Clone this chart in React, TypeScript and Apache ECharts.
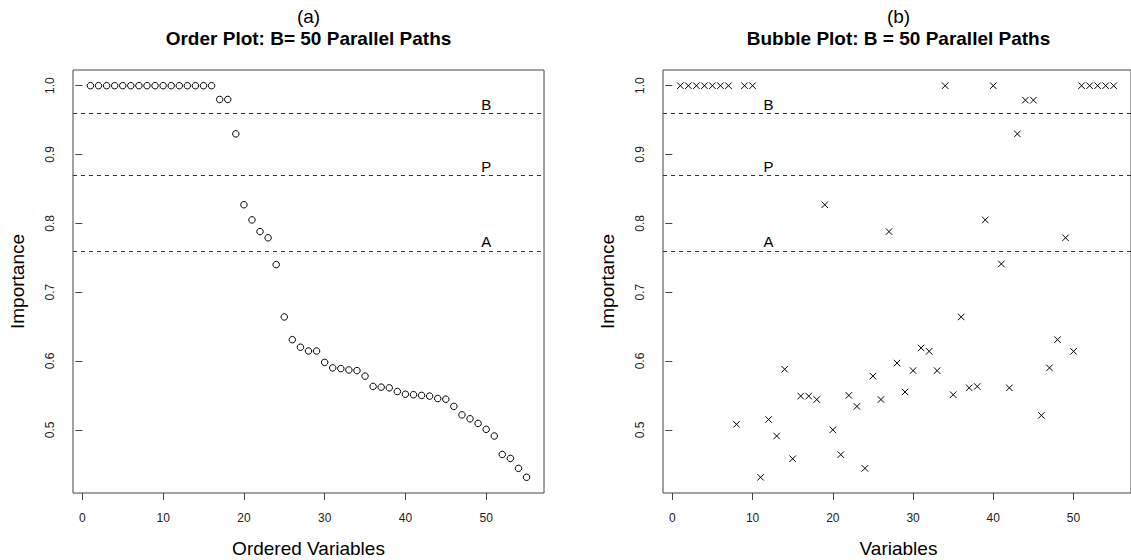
import React, { useEffect, useRef } from "react";
import * as echarts from "echarts";

// Order plot: importance sorted in decreasing order (x = rank 1..55)
const orderValues = [
  1, 1, 1, 1, 1, 1, 1, 1, 1, 1, 1, 1, 1, 1, 1, 1,
  0.98, 0.98, 0.93, 0.827, 0.805, 0.788, 0.779, 0.74, 0.664, 0.631,
  0.62, 0.6145, 0.6145, 0.598, 0.59, 0.589, 0.587, 0.586, 0.578, 0.563,
  0.562, 0.561, 0.5556, 0.5517, 0.551, 0.55, 0.549, 0.5455, 0.5445, 0.534,
  0.5217, 0.516, 0.5093, 0.5007, 0.491, 0.4642, 0.4585, 0.444, 0.431,
];

// Bubble plot: importance by original variable index (x = 1..55)
const bubbleValues = [
  1, 1, 1, 1, 1, 1, 1, 0.508, 1, 1,
  0.431, 0.515, 0.491, 0.588, 0.458, 0.549, 0.549, 0.544, 0.827, 0.5,
  0.464, 0.55, 0.534, 0.444, 0.578, 0.544, 0.788, 0.597, 0.555, 0.586,
  0.619, 0.614, 0.586, 1, 0.551, 0.664, 0.561, 0.563, 0.805, 1,
  0.741, 0.561, 0.93, 0.979, 0.979, 0.521, 0.59, 0.631, 0.779, 0.614,
  1, 1, 1, 1, 1,
];

const refValues = [0.96, 0.87, 0.76];
const refNames = ["B", "P", "A"];
const refLabelXOrder = 50;
const refLabelXBubble = 12;

const xTicks = [0, 10, 20, 30, 40, 50];
const yTicks = [0.5, 0.6, 0.7, 0.8, 0.9, 1.0];

const X_MIN = -1.16;
const X_MAX = 57.16;
const Y_MIN = 0.4082;
const Y_MAX = 1.0228;

const FONT = "'Liberation Sans', Arial, Helvetica, sans-serif";
const AXIS_COLOR = "#444";

function xAxisCfg(gridIndex: number) {
  return {
    type: "value",
    gridIndex,
    min: X_MIN,
    max: X_MAX,
    axisLine: { show: false },
    axisTick: {
      show: true,
      length: 7,
      lineStyle: { color: AXIS_COLOR, width: 1 },
      customValues: xTicks,
    },
    axisLabel: {
      customValues: xTicks,
      margin: 19,
      fontSize: 12,
      fontFamily: FONT,
      color: "#222",
      formatter: (v: number) => String(v),
    },
    splitLine: { show: false },
  };
}

function yAxisCfg(gridIndex: number) {
  return {
    type: "value",
    gridIndex,
    min: Y_MIN,
    max: Y_MAX,
    axisLine: { show: false },
    axisTick: {
      show: true,
      length: 7,
      lineStyle: { color: AXIS_COLOR, width: 1 },
      customValues: yTicks,
    },
    axisLabel: {
      customValues: yTicks,
      rotate: 90,
      margin: 17,
      fontSize: 12,
      fontFamily: FONT,
      color: "#222",
      formatter: (v: number) => v.toFixed(1),
    },
    splitLine: { show: false },
  };
}

function refMarkLine() {
  return {
    silent: true,
    symbol: ["none", "none"],
    label: { show: false },
    lineStyle: { type: [4, 4], color: "#333", width: 1, opacity: 1 },
    data: refValues.map((v) => ({ yAxis: v })),
  };
}

function refLabelSeries(index: number, xPos: number) {
  return {
    type: "scatter",
    xAxisIndex: index,
    yAxisIndex: index,
    symbolSize: 0,
    silent: true,
    itemStyle: { opacity: 1 },
    data: refValues.map((v, i) => ({ value: [xPos, v], name: refNames[i] })),
    label: {
      show: true,
      position: "inside",
      offset: [0, -9],
      formatter: (p: any) => p.name,
      fontSize: 15,
      fontFamily: FONT,
      color: "#000",
      opacity: 1,
    },
  };
}

export default function App() {
  const ref = useRef<HTMLDivElement>(null);

  useEffect(() => {
    if (!ref.current) return;
    const chart = echarts.init(ref.current, undefined, { renderer: "svg" });

    const leftGrid = { left: 73, top: 70, width: 471, height: 423 };
    const rightGrid = { left: 663, top: 70, width: 471, height: 423 };
    const leftCenter = leftGrid.left + leftGrid.width / 2;
    const rightCenter = rightGrid.left + rightGrid.width / 2;
    const midY = leftGrid.top + leftGrid.height / 2;

    const textEl = (
      text: string,
      x: number,
      y: number,
      size: number,
      bold = false,
      rotation = 0
    ) => ({
      type: "text",
      x,
      y,
      rotation,
      silent: true,
      style: {
        text,
        fontSize: size,
        fontFamily: FONT,
        fontWeight: bold ? "bold" : "normal",
        fill: "#000",
        align: "center",
        verticalAlign: "middle",
      },
    });

    const option: any = {
      animation: false,
      backgroundColor: "#fff",
      grid: [
        { ...leftGrid, show: true, borderColor: AXIS_COLOR, borderWidth: 1, backgroundColor: "transparent" },
        { ...rightGrid, show: true, borderColor: AXIS_COLOR, borderWidth: 1, backgroundColor: "transparent" },
      ],
      xAxis: [xAxisCfg(0), xAxisCfg(1)],
      yAxis: [yAxisCfg(0), yAxisCfg(1)],
      series: [
        {
          type: "scatter",
          name: "Order",
          xAxisIndex: 0,
          yAxisIndex: 0,
          symbol: "circle",
          symbolSize: 6.5,
          itemStyle: { color: "transparent", borderColor: "#000", borderWidth: 1, opacity: 1 },
          data: orderValues.map((v, i) => [i + 1, v]),
          markLine: refMarkLine(),
        },
        refLabelSeries(0, refLabelXOrder),
        {
          type: "scatter",
          name: "Bubble",
          xAxisIndex: 1,
          yAxisIndex: 1,
          symbol: "path://M0,0L10,10M10,0L0,10",
          symbolSize: 6.5,
          itemStyle: { color: "none", borderColor: "#000", borderWidth: 1, opacity: 1 },
          data: bubbleValues.map((v, i) => [i + 1, v]),
          markLine: refMarkLine(),
        },
        refLabelSeries(1, refLabelXBubble),
      ],
      graphic: [
        textEl("(a)", leftCenter, 16, 19),
        textEl("Order Plot: B= 50 Parallel Paths", leftCenter, 38, 19, true),
        textEl("(b)", rightCenter, 16, 19),
        textEl("Bubble Plot: B = 50 Parallel Paths", rightCenter, 38, 19, true),
        textEl("Ordered Variables", leftCenter, 548, 19),
        textEl("Variables", rightCenter, 548, 19),
        textEl("Importance", 17, midY, 19, false, Math.PI / 2),
        textEl("Importance", 607, midY, 19, false, Math.PI / 2),
      ],
    };

    chart.setOption(option);
    return () => chart.dispose();
  }, []);

  return (
    <div
      ref={ref}
      style={{ position: "fixed", left: 0, top: 0, width: 1131, height: 560, background: "#fff" }}
    />
  );
}
